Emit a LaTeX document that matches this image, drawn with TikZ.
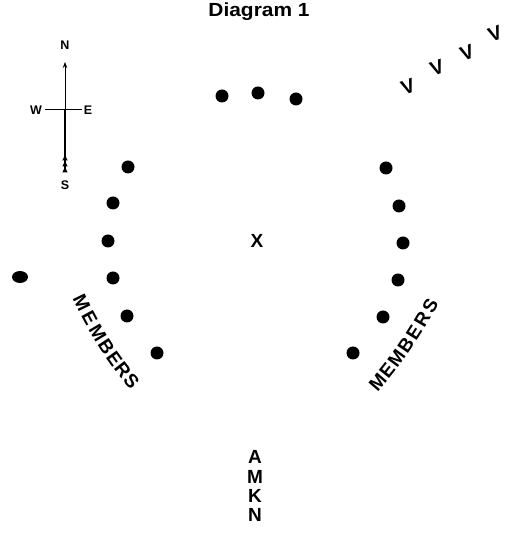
\documentclass[tikz,border=0pt]{standalone}
\usepackage{fontspec}
\setmainfont{Liberation Sans}
\usetikzlibrary{arrows.meta,shapes.geometric}
\begin{document}
\begin{tikzpicture}[x=1pt,y=1pt,
  dot/.style={circle,fill=black,inner sep=0pt,minimum size=13},
  lbl/.style={inner sep=0pt,font=\bfseries\fontsize{19}{19}\selectfont},
  cmp/.style={inner sep=0pt,font=\bfseries\fontsize{12.5}{12.5}\selectfont},
  vee/.style={inner sep=0pt,rotate=20,font=\bfseries\fontsize{20}{20}\selectfont},
  mem/.style={inner sep=0pt,sloped,anchor=base,font=\bfseries\fontsize{19}{19}\selectfont},
  fletch/.style={fill=black}]
\useasboundingbox (0,0) rectangle (505,538);
% title
\node[lbl,xscale=1.1] (title) at (259,526) {Diagram 1};
% compass
\node[cmp] (cN) at (65,493) {N};
\node[cmp] (cS) at (65,353) {S};
\node[cmp] (cW) at (36,428) {W};
\node[cmp] (cE) at (88,428) {E};
\coordinate (ctop) at (65,476);
\coordinate (cmid) at (65,429);
\coordinate (cbot) at (65,366);
\coordinate (cwl) at (45,429);
\coordinate (cer) at (82,429);
\draw[line width=0.8pt,-{Stealth[length=6pt,width=4.5pt]}] (cmid) -- (ctop);
\draw[line width=1.3pt] (cbot) -- (cmid);
\draw[line width=0.8pt] (cwl) -- (cer);
\foreach \yy in {383,377,371}{
  \fill[fletch] (65,\yy) -- (62.3,\yy-5.5) -- (67.7,\yy-5.5) -- cycle;
}
% V's
\node[vee] (v1) at (408,451) {V};
\node[vee] (v2) at (437,470) {V};
\node[vee] (v3) at (467,485) {V};
\node[vee] (v4) at (495,504) {V};
% top dots
\node[dot] (t1) at (222,442) {};
\node[dot] (t2) at (258,445) {};
\node[dot] (t3) at (296,439) {};
% left dots
\node[dot] (l1) at (128,371) {};
\node[dot] (l2) at (113,335) {};
\node[dot] (l3) at (108,297) {};
\node[dot] (l4) at (113,260) {};
\node[dot] (l5) at (127,222) {};
\node[dot] (l6) at (157,185) {};
\node[ellipse,fill=black,inner sep=0pt,minimum width=16,minimum height=12] (far) at (20,261) {};
% right dots
\node[dot] (r1) at (386,370) {};
\node[dot] (r2) at (399,332) {};
\node[dot] (r3) at (403,295) {};
\node[dot] (r4) at (398,258) {};
\node[dot] (r5) at (383,221) {};
\node[dot] (r6) at (353,185) {};
% centre X
\node[lbl] (x) at (257,297) {X};
% MEMBERS labels
\path (72,240) .. controls (89.3,203.3) and (108.7,173) .. (130,149)
  node[mem,pos=0.072] (ml1) {M}
  node[mem,pos=0.221] (ml2) {E}
  node[mem,pos=0.370] (ml3) {M}
  node[mem,pos=0.524] (ml4) {B}
  node[mem,pos=0.663] (ml5) {E}
  node[mem,pos=0.804] (ml6) {R}
  node[mem,pos=0.944] (ml7) {S};
\path (378,146) .. controls (400,170.7) and (420.3,200.3) .. (439,235)
  node[mem,pos=0.072] (mr1) {M}
  node[mem,pos=0.221] (mr2) {E}
  node[mem,pos=0.370] (mr3) {M}
  node[mem,pos=0.524] (mr4) {B}
  node[mem,pos=0.663] (mr5) {E}
  node[mem,pos=0.804] (mr6) {R}
  node[mem,pos=0.944] (mr7) {S};
% AMKN
\node[lbl] (a) at (255,81) {A};
\node[lbl] (m) at (255,61) {M};
\node[lbl] (k) at (255,42) {K};
\node[lbl] (n) at (255,23) {N};
\end{tikzpicture}
\end{document}
